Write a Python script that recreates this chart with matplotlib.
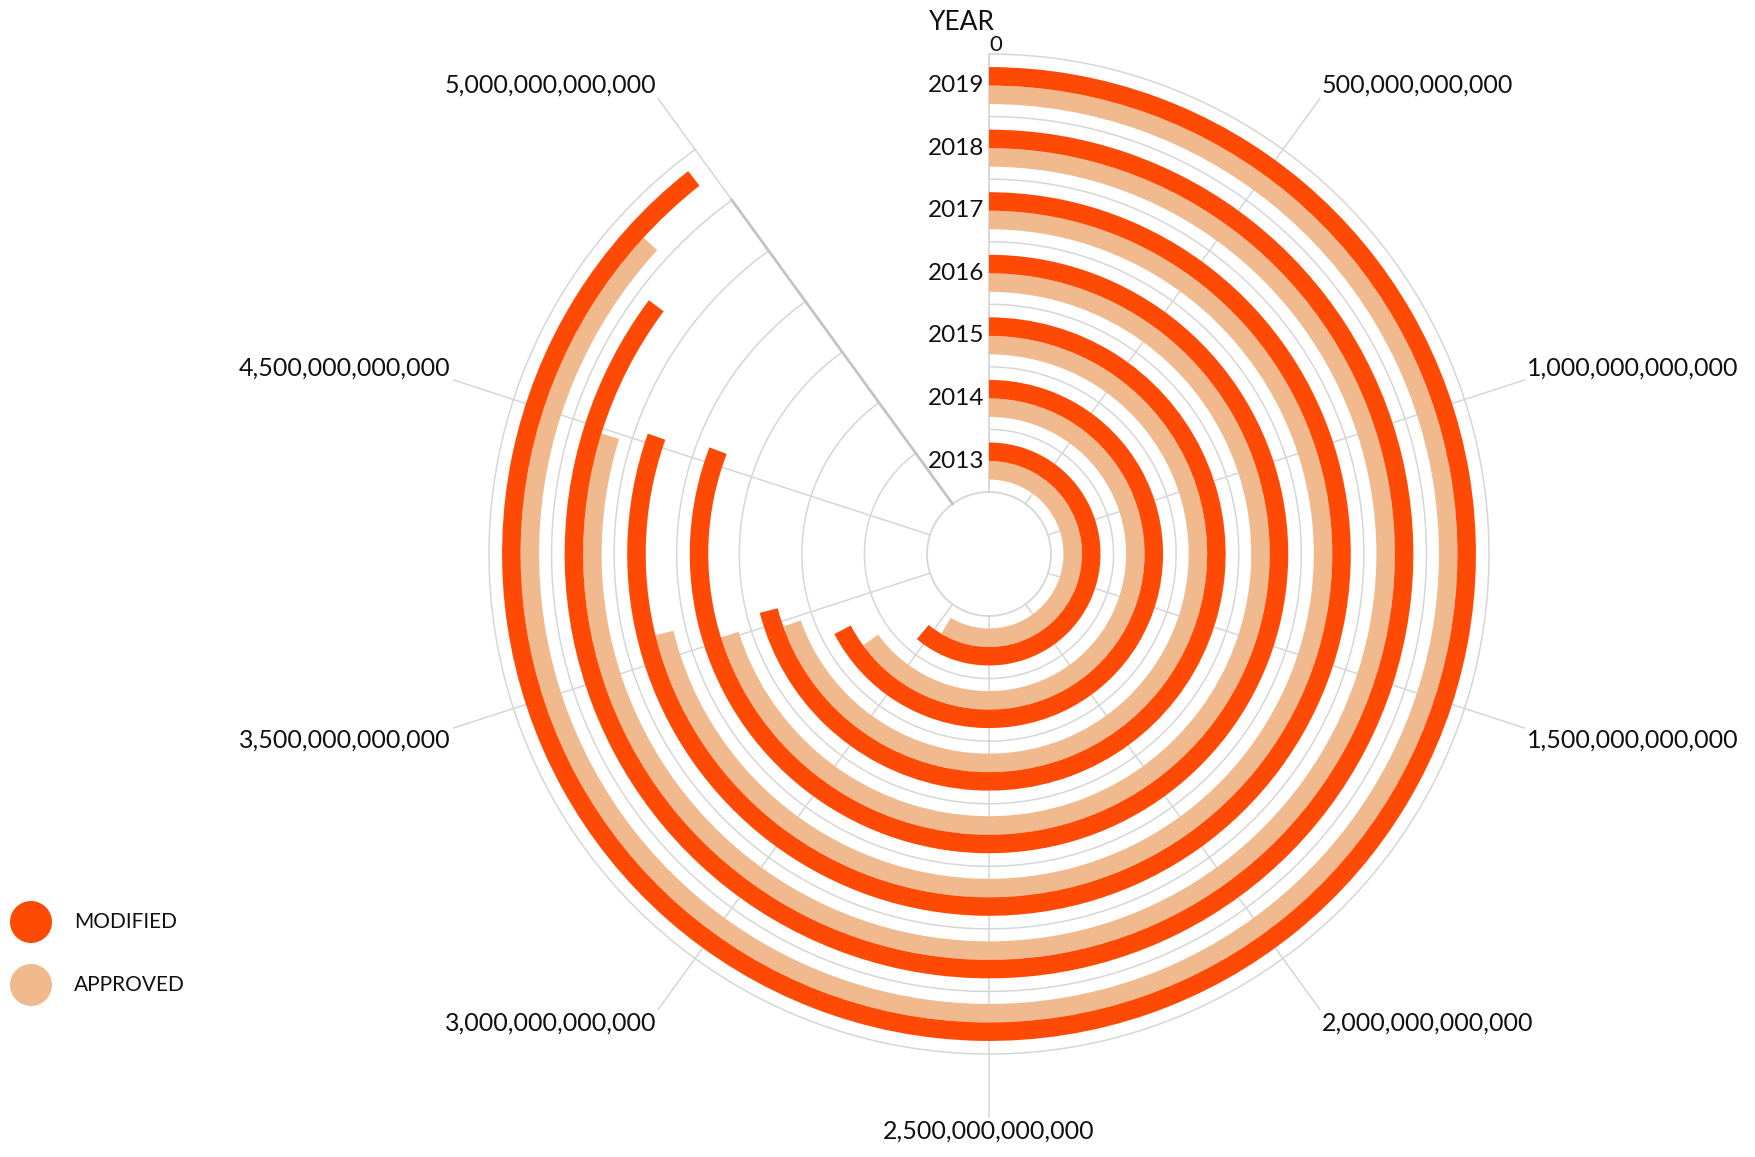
import numpy as np;
import matplotlib;
matplotlib.use('Agg');
import matplotlib.pyplot as plt;
from matplotlib.patches import Circle;
from matplotlib.transforms import IdentityTransform;

plt.rcParams['font.family']=['Lato','DejaVu Sans'];

# values (in currency units)
years=['2013','2014','2015','2016','2017','2018','2019'];
modified=[3.06e12,3.37e12,3.55e12,4.04e12,4.02e12,4.26e12,4.47e12];
approved=[2.93e12,3.25e12,3.48e12,3.51e12,3.56e12,3.99e12,4.34e12];
tick_values=[0,0.5e12,1.0e12,1.5e12,2.0e12,2.5e12,3.0e12,3.5e12,4.0e12,4.5e12];
tick_labels=['0','500,000,000,000','1,000,000,000,000','1,500,000,000,000',
	'2,000,000,000,000','2,500,000,000,000','3,000,000,000,000',
	'3,500,000,000,000','4,500,000,000,000','5,000,000,000,000'];

modified_color='#fe4a04';
approved_color='#f0ba8e';
grid_color='#d6d6d6';

full_turn=5e12;
def to_theta(v):
	return 2*np.pi*v/full_turn;

W,H=1756,1157;
cx,cy=989,554;
R=600;
fig=plt.figure(figsize=(W/100,H/100),dpi=100);
ax=fig.add_axes([(cx-R)/W,(H-cy-R)/H,2*R/W,2*R/H],projection='polar');
ax.set_theta_zero_location('N');
ax.set_theta_direction(-1);
ax.set_ylim(0,R);
ax.axis('off');

r0=62;
r1=500;
band=(r1-r0)/len(years);
thick=18.5;

# grid circles
th=np.linspace(0,to_theta(tick_values[-1]),500);
for k in range(1,len(years)+1):
	ax.plot(th,np.full_like(th,r0+k*band),color=grid_color,lw=1.1,zorder=1);
th_full=np.linspace(0,2*np.pi,600);
ax.plot(th_full,np.full_like(th_full,r0),color=grid_color,lw=1.3,zorder=1);

# spokes + labels
ax.plot([0,0],[r0,r1],color=grid_color,lw=1.3,zorder=1);
ax.text(0,r1-1,tick_labels[0],ha='left',va='bottom',fontsize=16,color='#111111');
for v,lab in zip(tick_values[1:],tick_labels[1:]):
	t=to_theta(v);
	ax.plot([t,t],[r0,563],color=grid_color,lw=1.1,zorder=1);
	s=np.sin(t);c=np.cos(t);
	ha='left' if s>0.01 else ('right' if s<-0.01 else 'center');
	va='bottom' if c>0.01 else ('top' if c<-0.01 else 'center');
	ax.text(t,566,lab,ha=ha,va=va,fontsize=18,color='#111111');
t_end=to_theta(tick_values[-1]);
ax.plot([t_end,t_end],[r0,r0+6*band],color='#c4c4c4',lw=2.0,zorder=1);

# bars
for i,y in enumerate(years):
	b0=r0+i*band;
	ax.bar(0,thick,width=to_theta(approved[i]),bottom=b0+12.5,align='edge',color=approved_color,lw=0,zorder=2);
	ax.bar(0,thick,width=to_theta(modified[i]),bottom=b0+12.5+thick,align='edge',color=modified_color,lw=0,zorder=2);
	ax.annotate(y,(0,b0+12.5+thick),xytext=(-5,0),textcoords='offset pixels',ha='right',va='center',fontsize=17.5,color='#111111');

ax.annotate('YEAR',(0,r1),xytext=(-27,32),textcoords='offset pixels',ha='center',va='center',fontsize=19,color='#111111');

# legend
for j,(lab,col) in enumerate([('MODIFIED',modified_color),('APPROVED',approved_color)]):
	ypix=H-(922+63*j);
	fig.add_artist(Circle((31,ypix),21,transform=IdentityTransform(),color=col,lw=0));
	fig.text(74/W,ypix/H,lab,ha='left',va='center',fontsize=15,color='#111111');

fig.savefig('out.png',dpi=100);
